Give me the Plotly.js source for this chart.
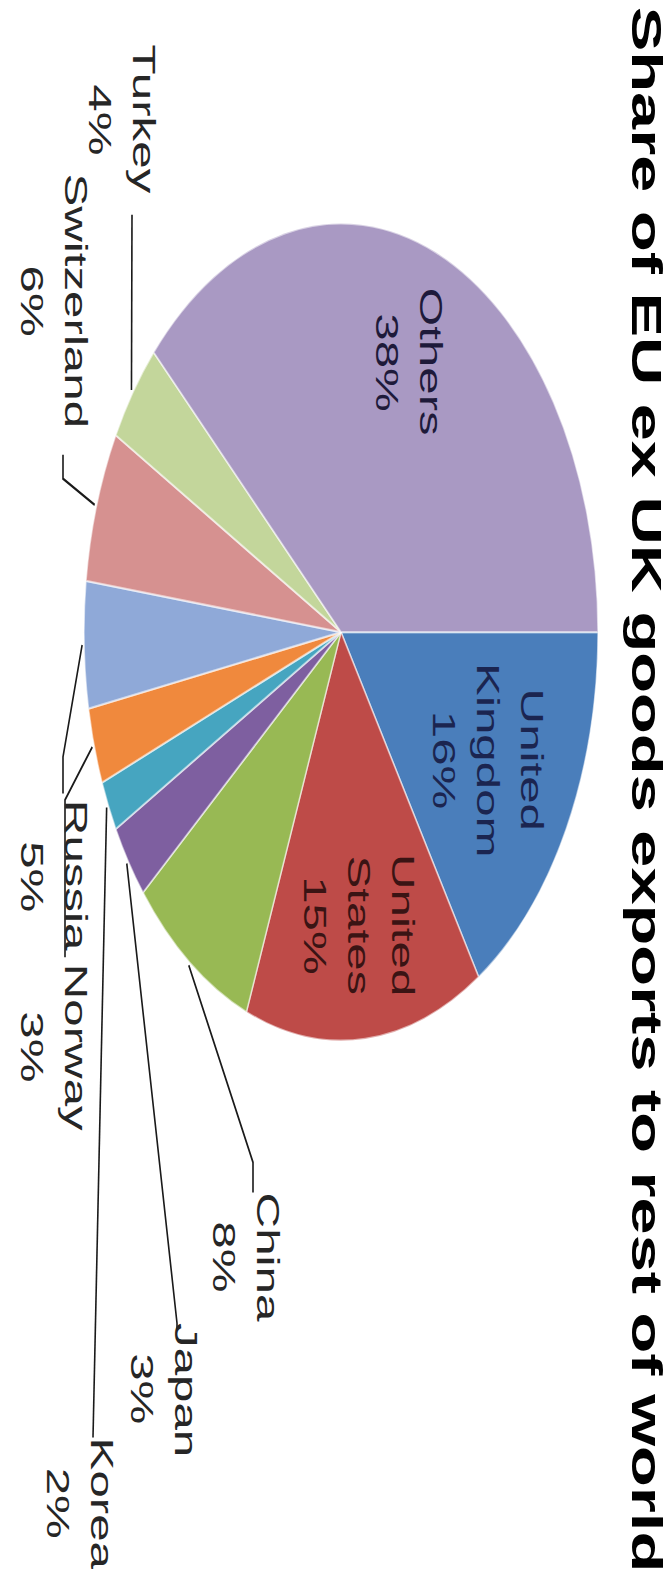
<!DOCTYPE html>
<html>
<head>
<meta charset="utf-8">
<script src="https://cdn.plot.ly/plotly-3.0.1.min.js"></script>
<style>
  html, body { margin: 0; padding: 0; background: #ffffff; }
  #frame { position: relative; width: 672px; height: 1579px; overflow: hidden; background: #ffffff; }
  #chart { position: absolute; left: 0; top: 0; width: 993px; height: 672px; transform-origin: 0 0; }
</style>
</head>
<body>
<div id="frame"><div id="chart"></div></div>
<script>
// ---- data ----
const countries = ['United Kingdom', 'United States', 'China', 'Japan', 'Korea', 'Norway', 'Russia', 'Switzerland', 'Turkey', 'Others'];
const shares = [16, 15, 8, 3, 2, 3, 5, 6, 4, 38];
const sliceColors = ['#4A7EBB', '#BE4B48', '#98B954', '#7E5FA0', '#46A5C0', '#F0893D', '#8FA9D8', '#D69190', '#C3D69B', '#A999C3'];
const chartTitle = 'Share of EU ex UK goods exports to rest of world';

// ---- geometry / layout (unrotated frame, px) ----
const W = 993, H = 672;
const STRETCH = 1579 / W;
const PIE = { cx: 397.5, cy: 331, r: 257 };
const LINE_GAP = 44;

// inside labels: radial fraction of the radius, text colour
const insideLabels = {
  'United Kingdom': { k: 0.65, color: '#1b2550', lines: ['United', 'Kingdom'] },
  'United States':  { k: 0.72, color: '#3a1414', lines: ['United', 'States'] },
  'Others':         { k: 0.71, color: '#1e1a3a', lines: ['Others'] }
};
// outside labels: block centre (lx, ly), leader end (ex, ey), elbow x (bx)
const outsideLabels = {
  'Turkey':      { lx: 75,    ly: 550,   ex: 135, ey: 540, bx: 135 },
  'Switzerland': { lx: 189,   ly: 618.5, ex: 286, ey: 609, bx: 301 },
  'Russia':      { lx: 551,   ly: 618.5, ex: 499, ey: 609, bx: 476 },
  'Norway':      { lx: 658.5, ly: 618.5, ex: 602, ey: 607, bx: 503 },
  'Korea':       { lx: 945,   ly: 592,   ex: 904, ey: 579, bx: 904 },
  'Japan':       { lx: 873.5, ly: 508,   ex: 836, ey: 495, bx: 832 },
  'China':       { lx: 790.5, ly: 426,   ex: 750, ey: 419, bx: 731 }
};

const FONT = 'Liberation Sans, Arial, sans-serif';
const px = x => x / W;
const py = y => 1 - y / H;

const total = shares.reduce((a, b) => a + b, 0);
const annotations = [];
const shapes = [];
let cum = 0;
countries.forEach((name, i) => {
  const frac = shares[i] / total;
  const mid = (cum + frac / 2) * 2 * Math.PI;
  cum += frac;
  const pct = Math.round(frac * 100) + '%';
  const sx = Math.sin(mid), sy = -Math.cos(mid);
  let lines, cxl, cyl, color;
  if (insideLabels[name]) {
    const o = insideLabels[name];
    lines = o.lines.concat([pct]);
    cxl = PIE.cx + o.k * PIE.r * sx;
    cyl = PIE.cy + o.k * PIE.r * sy;
    color = o.color;
  } else {
    const o = outsideLabels[name];
    lines = [name, pct];
    cxl = o.lx; cyl = o.ly;
    color = '#262626';
    const ax = PIE.cx + (PIE.r + 2) * sx;
    const ay = PIE.cy + (PIE.r + 2) * sy;
    shapes.push({
      type: 'path', xref: 'paper', yref: 'paper',
      path: `M ${px(ax)},${py(ay)} L ${px(o.bx)},${py(o.ey)} L ${px(o.ex)},${py(o.ey)}`,
      line: { color: '#1a1a1a', width: 1.6 }
    });
  }
  const n = lines.length;
  lines.forEach((t, j) => {
    annotations.push({
      xref: 'paper', yref: 'paper',
      x: px(cxl), y: py(cyl + (j - (n - 1) / 2) * LINE_GAP),
      xanchor: 'center', yanchor: 'middle',
      text: t, showarrow: false,
      font: { family: FONT, size: 31, color: color }
    });
  });
});

const trace = {
  type: 'pie',
  labels: countries,
  values: shares,
  sort: false,
  direction: 'clockwise',
  rotation: 0,
  textinfo: 'none',
  hoverinfo: 'skip',
  marker: { colors: sliceColors, line: { color: 'rgba(255,255,255,0.55)', width: 1.5 } },
  domain: {
    x: [(PIE.cx - PIE.r) / W, (PIE.cx + PIE.r) / W],
    y: [1 - (PIE.cy + PIE.r) / H, 1 - (PIE.cy - PIE.r) / H]
  }
};

const layout = {
  width: W, height: H,
  margin: { l: 0, r: 0, t: 0, b: 0 },
  paper_bgcolor: '#ffffff',
  plot_bgcolor: '#ffffff',
  showlegend: false,
  title: {
    text: '<b>' + chartTitle + '</b>',
    x: 0.5, xanchor: 'center', xref: 'container',
    y: 1 - 25 / H, yanchor: 'middle', yref: 'container',
    font: { family: FONT, size: 42, color: '#000000' }
  },
  annotations: annotations,
  shapes: shapes
};

document.getElementById('chart').style.transform =
  'translate(672px, 0) rotate(90deg) scaleX(' + STRETCH + ')';
Plotly.newPlot('chart', [trace], layout, { displayModeBar: false, staticPlot: true });
</script>
</body>
</html>
